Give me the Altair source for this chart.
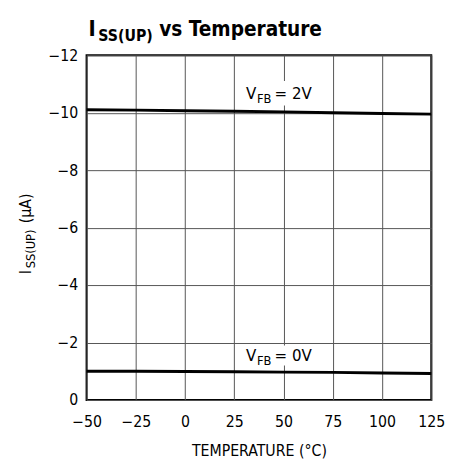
import altair as alt
import pandas as pd

# ---- data ----
temps = [-50, -25, 0, 25, 50, 75, 100, 125]
i_vfb2 = [-10.10, -10.09, -10.07, -10.05, -10.03, -10.00, -9.97, -9.95]
i_vfb0 = [-1.00, -1.00, -0.99, -0.98, -0.97, -0.96, -0.94, -0.92]
series_names = ["VFB = 2V", "VFB = 0V"]

x_ticks = [-50, -25, 0, 25, 50, 75, 100, 125]
y_ticks = [0, -2, -4, -6, -8, -10, -12]

label_x = [31, 31]
label_y = [-10.46, -1.37]
label_main = ["V", "V"]
label_sub = ["FB", "FB"]
label_tail = ["= 2V", "= 0V"]
box_x = [27, 27]
box_x2 = [72, 72]
box_y = [-10.25, -1.2]
box_y2 = [-11.1, -1.9]

FONT = "DejaVu Sans Condensed, Liberation Sans Narrow, sans-serif"

rows = []
for t, a, b in zip(temps, i_vfb2, i_vfb0):
    rows.append({"temp": t, "i": a, "series": series_names[0]})
    rows.append({"temp": t, "i": b, "series": series_names[1]})
df = pd.DataFrame(rows)

lab = pd.DataFrame({"x": label_x, "y": label_y, "main": label_main,
                    "sub": label_sub, "tail": label_tail,
                    "bx": box_x, "bx2": box_x2, "by": box_y, "by2": box_y2})

xs = alt.Scale(domain=[-50, 125], nice=False, zero=False)
ys = alt.Scale(domain=[-12, 0], nice=False, zero=False, reverse=True)

xenc = alt.X("temp:Q", scale=xs,
             axis=alt.Axis(values=x_ticks, title="TEMPERATURE (°C)"))
yenc = alt.Y("i:Q", scale=ys, axis=alt.Axis(values=y_ticks, title=None))

lines = alt.Chart(df).mark_line(color="black", strokeWidth=3).encode(
    x=xenc, y=yenc, detail="series:N")

boxes = alt.Chart(lab).mark_rect(color="white").encode(
    x=alt.X("bx:Q", scale=xs), x2="bx2", y=alt.Y("by:Q", scale=ys), y2="by2")

base_t = alt.Chart(lab).encode(x=alt.X("x:Q", scale=xs), y=alt.Y("y:Q", scale=ys))
t_main = base_t.mark_text(align="left", baseline="alphabetic", font=FONT,
                          fontSize=17, color="black").encode(text="main:N")
t_sub = base_t.mark_text(align="left", baseline="alphabetic", font=FONT,
                         fontSize=13, color="black", dx=11, dy=4).encode(text="sub:N")
t_tail = base_t.mark_text(align="left", baseline="alphabetic", font=FONT,
                          fontSize=17, color="black", dx=29).encode(text="tail:N")

# title pieces
title_df = pd.DataFrame({"a": ["I"], "b": ["SS(UP)"], "c": ["vs Temperature"]})
tb = alt.Chart(title_df)
ti1 = tb.mark_text(align="left", baseline="alphabetic", font=FONT, fontSize=22,
                   fontWeight="bold", color="black").encode(
    text="a:N", x=alt.value(2), y=alt.value(-20))
ti2 = tb.mark_text(align="left", baseline="alphabetic", font=FONT, fontSize=16,
                   fontWeight="bold", color="black").encode(
    text="b:N", x=alt.value(12), y=alt.value(-15))
ti3 = tb.mark_text(align="left", baseline="alphabetic", font=FONT, fontSize=21,
                   fontWeight="bold", color="black").encode(
    text="c:N", x=alt.value(74), y=alt.value(-20))

# y-axis title pieces
yt_df = pd.DataFrame({"a": ["I"], "b": ["SS(UP)"], "c": ["(µA)"]})
yb = alt.Chart(yt_df)
yt1 = yb.mark_text(align="left", baseline="alphabetic", font=FONT, fontSize=16,
                   angle=270, color="black").encode(
    text="a:N", x=alt.value(-57), y=alt.value(223))
yt2 = yb.mark_text(align="left", baseline="alphabetic", font=FONT, fontSize=13,
                   angle=270, color="black", dx=6, dy=4).encode(
    text="b:N", x=alt.value(-57), y=alt.value(223))
yt3 = yb.mark_text(align="left", baseline="alphabetic", font=FONT, fontSize=16,
                   angle=270, color="black", dx=52).encode(
    text="c:N", x=alt.value(-57), y=alt.value(223))

chart = alt.layer(boxes, lines, t_main, t_sub, t_tail, ti1, ti2, ti3, yt1, yt2, yt3).properties(
    width=351, height=351,
    autosize=alt.AutoSizeParams(type="none"),
    padding={"left": 80, "top": 44, "right": 16, "bottom": 57},
).configure_view(stroke="black", strokeWidth=2).configure_axis(
    labelFont=FONT, labelFontSize=16, labelColor="black", labelOverlap=False,
    titleFont=FONT, titleFontSize=16, titleFontWeight="normal", titleColor="black",
    ticks=False, tickSize=0, domain=False,
    grid=True, gridColor="#555555", gridWidth=1, gridOpacity=1,
).configure_axisX(labelPadding=14, titlePadding=14, labelFlush=False).configure_axisY(labelPadding=9)

chart.save("out.html", embed_options={"renderer": "svg", "actions": False})
